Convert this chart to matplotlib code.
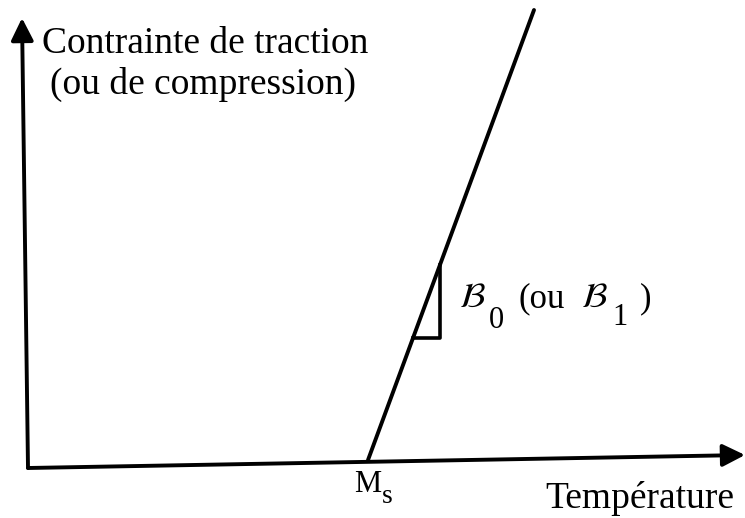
import matplotlib.pyplot as plt

plt.rcParams['font.family'] = ['Liberation Serif', 'DejaVu Serif']
plt.rcParams['mathtext.fontset'] = 'stix'

# schematic coordinates (arbitrary units, origin at the axes corner)
x_axis_end = [717, 13]
y_axis_end = [-6, 450]
ms_point = [340, 8]          # M_s on the temperature axis
line_end = [506, 458]        # top of the stress line
tri_x = [385, 412, 412]      # slope triangle (horizontal + vertical legs)
tri_y = [130, 130, 203]

y_label = ["Contrainte de traction", "(ou de compression)"]
x_label = "Température"

fig = plt.figure(figsize=(7.45, 5.18), dpi=100)
ax = fig.add_axes([0, 0, 1, 1])
ax.set_xlim(-28, 717)
ax.set_ylim(-50, 468)
ax.axis('off')

arrow = dict(arrowstyle='-|>', lw=2.8, color='black', mutation_scale=34,
             shrinkA=0, shrinkB=0)
ax.annotate('', xy=x_axis_end, xytext=(0, 0), arrowprops=arrow)
ax.annotate('', xy=y_axis_end, xytext=(0, 0), arrowprops=arrow)

ax.plot([ms_point[0], line_end[0]], [ms_point[1], line_end[1]],
        color='black', lw=2.8, solid_capstyle='round')
ax.plot(tri_x, tri_y, color='black', lw=2.6)

big = 27
small = 22
ax.text(14, 415, y_label[0], fontsize=big, va='baseline')
ax.text(22, 374, y_label[1], fontsize=big, va='baseline')
ax.text(517, -40, x_label, fontsize=big, va='baseline')

# M_s
ax.text(326, -24, "M", fontsize=22, va='baseline')
ax.text(354, -35, "s", fontsize=20, va='baseline')

# B0 (ou B1)
ax.text(431, 161, r"$\mathcal{B}$", fontsize=25, va='baseline')
ax.text(461, 140, "0", fontsize=small, va='baseline')
ax.text(491, 161, "(ou", fontsize=25, va='baseline')
ax.text(553, 161, r"$\mathcal{B}$", fontsize=25, va='baseline')
ax.text(584, 143, "1", fontsize=small, va='baseline')
ax.text(612, 161, ")", fontsize=25, va='baseline')

fig.savefig("out.png", dpi=100)
